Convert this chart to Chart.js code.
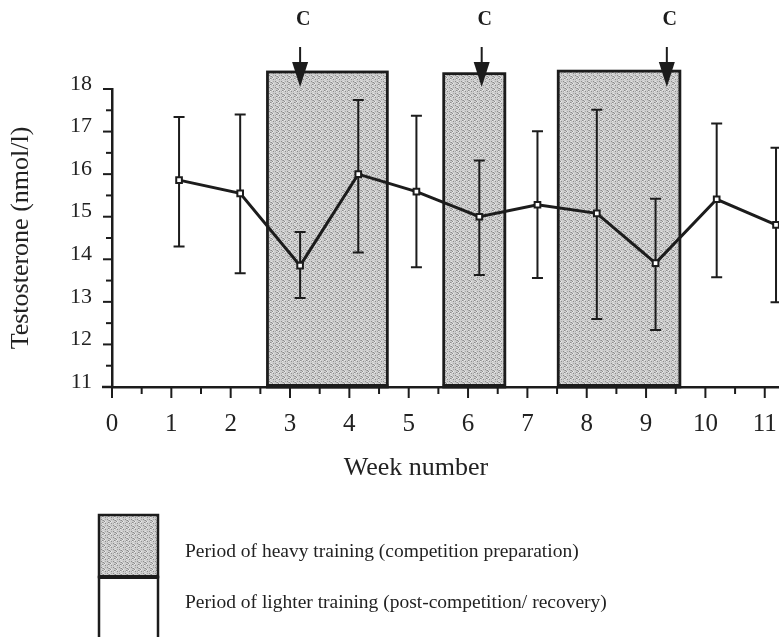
<!DOCTYPE html>
<html>
<head>
<meta charset="utf-8">
<title>Testosterone by week</title>
<script src="https://cdn.jsdelivr.net/npm/chart.js@4/dist/chart.umd.min.js"></script>
<style>
  html, body { margin: 0; padding: 0; background: #fff; overflow: hidden; width: 779px; height: 637px; }
  canvas { display: block; }
</style>
</head>
<body>
<canvas id="chart" width="820" height="637"></canvas>
<script>
// Weekly testosterone means with their error-bar limits (nmol/l)
const weeks = [1.13, 2.16, 3.17, 4.15, 5.13, 6.19, 7.17, 8.17, 9.16, 10.19, 11.19];
const means = [15.86, 15.55, 13.85, 16.0, 15.59, 15.0, 15.28, 15.08, 13.91, 15.41, 14.81];
const upper = [17.34, 17.40, 14.64, 17.74, 17.37, 16.32, 17.01, 17.51, 15.42, 17.19, 16.62];
const lower = [14.30, 13.67, 13.09, 14.16, 13.81, 13.63, 13.56, 12.60, 12.34, 13.58, 12.99];

// Heavy-training periods (week span and height of the shaded block)
const heavyStart = [2.62, 5.59, 7.52];
const heavyEnd = [4.64, 6.62, 9.57];
const heavyTop = [18.4, 18.36, 18.42];

// Competitions, marked with a "C" arrow
const competitionWeeks = [3.17, 6.23, 9.35];
const competitionLabel = 'C';

const xTickValues = [0, 1, 2, 3, 4, 5, 6, 7, 8, 9, 10, 11];
const yTickValues = [11, 12, 13, 14, 15, 16, 17, 18];

const xTitle = 'Week number';
const yTitle = 'Testosterone (nmol/l)';
const legendHeavy = 'Period of heavy training (competition preparation)';
const legendLight = 'Period of lighter training (post-competition/ recovery)';

const SERIF = "'Liberation Serif', 'Times New Roman', 'DejaVu Serif', serif";
const INK = '#1c1c1c';

// stippled grey fill for the heavy-training blocks
function makeStipple() {
  const c = document.createElement('canvas');
  c.width = 6; c.height = 6;
  const g = c.getContext('2d');
  g.fillStyle = '#cdcdcd';
  g.fillRect(0, 0, 6, 6);
  for (let i = 0; i < 6; i++) {
    for (let j = 0; j < 6; j++) {
      const k = (i * 5 + j * 3 + i * j) % 7;
      if (k === 0) { g.fillStyle = '#8c8c8c'; g.fillRect(i, j, 1, 1); }
      else if (k === 3) { g.fillStyle = '#e8e8e8'; g.fillRect(i, j, 1, 1); }
      else if (k === 5) { g.fillStyle = '#ababab'; g.fillRect(i, j, 1, 1); }
    }
  }
  return c;
}
const stippleCanvas = makeStipple();

const decorations = {
  id: 'decorations',
  beforeDatasetsDraw(chart) {
    const { ctx, scales: { x, y } } = chart;
    const pattern = ctx.createPattern(stippleCanvas, 'repeat');
    ctx.save();
    // heavy-training blocks
    heavyStart.forEach((s, i) => {
      const l = x.getPixelForValue(s);
      const r = x.getPixelForValue(heavyEnd[i]);
      const t = y.getPixelForValue(heavyTop[i]);
      const b = y.getPixelForValue(11);
      ctx.fillStyle = pattern;
      ctx.fillRect(l, t, r - l, b - t);
      ctx.strokeStyle = INK;
      ctx.lineWidth = 2.8;
      ctx.strokeRect(l, t, r - l, b - t);
      ctx.lineWidth = 4;
      ctx.beginPath();
      ctx.moveTo(l - 1, b - 1);
      ctx.lineTo(r + 1, b - 1);
      ctx.stroke();
    });
    // error bars
    ctx.strokeStyle = INK;
    ctx.lineWidth = 2;
    weeks.forEach((w, i) => {
      const px = x.getPixelForValue(w);
      const pt = y.getPixelForValue(upper[i]);
      const pb = y.getPixelForValue(lower[i]);
      ctx.beginPath();
      ctx.moveTo(px, pt); ctx.lineTo(px, pb);
      ctx.moveTo(px - 5.5, pt); ctx.lineTo(px + 5.5, pt);
      ctx.moveTo(px - 5.5, pb); ctx.lineTo(px + 5.5, pb);
      ctx.stroke();
    });
    ctx.restore();
  },
  afterDraw(chart) {
    const { ctx, chartArea, scales: { x, y } } = chart;
    ctx.save();
    ctx.strokeStyle = INK;
    ctx.fillStyle = INK;
    ctx.lineWidth = 2;
    // y-axis tick marks (whole and half units)
    for (let v = 11; v <= 18.001; v += 0.5) {
      const py = y.getPixelForValue(v);
      const len = Number.isInteger(v) ? 9 : 6;
      ctx.beginPath();
      ctx.moveTo(chartArea.left - len, py);
      ctx.lineTo(chartArea.left, py);
      ctx.stroke();
    }
    // x-axis tick marks (whole and half weeks)
    for (let v = 0; v <= 11.51; v += 0.5) {
      const px = x.getPixelForValue(v);
      const len = Number.isInteger(v) ? 11 : 7;
      ctx.beginPath();
      ctx.moveTo(px, chartArea.bottom);
      ctx.lineTo(px, chartArea.bottom + len);
      ctx.stroke();
    }
    ctx.lineWidth = 2.5;
    ctx.beginPath();
    ctx.moveTo(chartArea.left - 10, chartArea.bottom);
    ctx.lineTo(chartArea.left, chartArea.bottom);
    ctx.stroke();

    // competition arrows
    const top = chartArea.top;
    competitionWeeks.forEach(w => {
      const px = x.getPixelForValue(w);
      ctx.lineWidth = 2;
      ctx.beginPath();
      ctx.moveTo(px, top - 42);
      ctx.lineTo(px, top - 22);
      ctx.stroke();
      ctx.beginPath();
      ctx.moveTo(px - 8, top - 27);
      ctx.lineTo(px + 8, top - 27);
      ctx.lineTo(px, top - 2);
      ctx.closePath();
      ctx.fill();
      ctx.font = 'bold 20px ' + SERIF;
      ctx.textAlign = 'center';
      ctx.textBaseline = 'middle';
      ctx.fillText(competitionLabel, px + 3, top - 69);
    });

    // x-axis title
    ctx.font = '26px ' + SERIF;
    ctx.textAlign = 'center';
    ctx.textBaseline = 'middle';
    ctx.fillStyle = '#222';
    ctx.fillText(xTitle, 416, 468);

    // key
    const kx = 99, kw = 59;
    ctx.fillStyle = ctx.createPattern(stippleCanvas, 'repeat');
    ctx.fillRect(kx, 515, kw, 62);
    ctx.fillStyle = '#fff';
    ctx.fillRect(kx, 577, kw, 62);
    ctx.strokeStyle = INK;
    ctx.lineWidth = 2.5;
    ctx.strokeRect(kx, 515, kw, 62);
    ctx.strokeRect(kx, 577, kw, 62);
    ctx.lineWidth = 4;
    ctx.beginPath();
    ctx.moveTo(kx - 1, 577); ctx.lineTo(kx + kw + 1, 577);
    ctx.stroke();
    ctx.fillStyle = '#222';
    ctx.font = '19.5px ' + SERIF;
    ctx.textAlign = 'left';
    ctx.textBaseline = 'middle';
    ctx.fillText(legendHeavy, 185, 552);
    ctx.fillText(legendLight, 185, 603);
    ctx.restore();
  }
};

new Chart(document.getElementById('chart'), {
  type: 'line',
  data: {
    datasets: [{
      data: weeks.map((w, i) => ({ x: w, y: means[i] })),
      borderColor: INK,
      borderWidth: 3,
      pointStyle: 'rect',
      pointRadius: 4,
      pointBackgroundColor: '#fff',
      pointBorderColor: INK,
      pointBorderWidth: 2,
      tension: 0,
      clip: false
    }]
  },
  options: {
    responsive: false,
    animation: false,
    layout: { padding: { top: 89, right: 0, bottom: 0, left: 0 } },
    plugins: { legend: { display: false }, tooltip: { enabled: false } },
    scales: {
      x: {
        type: 'linear',
        min: 0,
        max: 11.83,
        afterFit(scale) { scale.height = 250; },
        afterBuildTicks(scale) { scale.ticks = xTickValues.map(v => ({ value: v })); },
        grid: { display: false, drawTicks: false },
        border: { display: true, width: 2.5, color: INK },
        ticks: {
          padding: 22,
          color: '#222',
          font: { family: SERIF, size: 25 },
          maxRotation: 0
        }
      },
      y: {
        min: 11,
        max: 18,
        afterFit(scale) { scale.width = 112; },
        afterBuildTicks(scale) { scale.ticks = yTickValues.map(v => ({ value: v })); },
        grid: { display: false, drawTicks: false },
        border: { display: true, width: 2.5, color: INK },
        ticks: {
          padding: 20,
          labelOffset: -5,
          color: '#222',
          font: { family: SERIF, size: 22 }
        },
        title: {
          display: true,
          text: yTitle,
          color: '#222',
          font: { family: SERIF, size: 26 },
          padding: { top: 6, bottom: 0 }
        }
      }
    }
  },
  plugins: [decorations]
});
</script>
</body>
</html>
